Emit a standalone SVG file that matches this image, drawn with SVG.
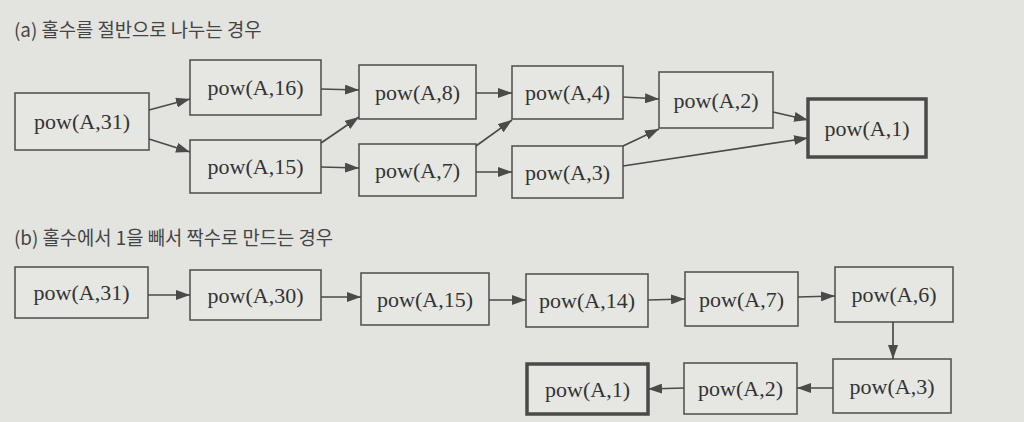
<svg xmlns="http://www.w3.org/2000/svg" width="1024" height="422" viewBox="0 0 1024 422">
<defs>
<marker id="ah" viewBox="0 0 14 10" refX="14" refY="5" markerWidth="14" markerHeight="10" markerUnits="userSpaceOnUse" orient="auto">
<path d="M0,0 L14,5 L0,10 Z" fill="#4a4a4a"/>
</marker>
<style>
.bg{fill:#e3e3e0}
.n rect{fill:#e6e6e3;stroke:#555;stroke-width:1.6}
.n.bold rect{stroke:#4a4a4a;stroke-width:3.5}
.n text{font-family:"Liberation Serif","Times New Roman",serif;font-size:22px;fill:#333;text-anchor:middle;dominant-baseline:central}
.t{font-family:"Noto Sans CJK KR","Noto Sans",sans-serif;font-size:18.8px;fill:#444}
#edges line{stroke:#4a4a4a;stroke-width:1.7;marker-end:url(#ah)}
</style>
</defs>
<rect class="bg" x="0" y="0" width="1024" height="422"/>
<text class="t" x="14" y="37">(a) 홀수를 절반으로 나누는 경우</text>
<text class="t" x="14" y="245">(b) 홀수에서 1을 빼서 짝수로 만드는 경우</text>

<g id="a31" class="n"><rect x="15" y="93" width="134" height="57"/><text x="82" y="121.5">pow(A,31)</text></g>
<g id="a16" class="n"><rect x="190" y="60" width="131" height="55"/><text x="255.5" y="87.5">pow(A,16)</text></g>
<g id="a15" class="n"><rect x="190" y="140" width="131" height="53"/><text x="255.5" y="166.5">pow(A,15)</text></g>
<g id="a8" class="n"><rect x="359" y="65" width="117" height="54"/><text x="417.5" y="92">pow(A,8)</text></g>
<g id="a7" class="n"><rect x="359" y="144" width="117" height="52"/><text x="417.5" y="170">pow(A,7)</text></g>
<g id="a4" class="n"><rect x="512" y="66" width="111" height="53"/><text x="567.5" y="92.5">pow(A,4)</text></g>
<g id="a3" class="n"><rect x="512" y="146" width="111" height="52"/><text x="567.5" y="172">pow(A,3)</text></g>
<g id="a2" class="n"><rect x="659" y="72" width="114" height="56"/><text x="716" y="100">pow(A,2)</text></g>
<g id="a1" class="n bold"><rect x="808" y="99" width="118" height="58"/><text x="867" y="128">pow(A,1)</text></g>

<g id="b31" class="n"><rect x="15" y="267" width="133" height="51"/><text x="81.5" y="292.5">pow(A,31)</text></g>
<g id="b30" class="n"><rect x="190" y="270" width="131" height="50"/><text x="255.5" y="295">pow(A,30)</text></g>
<g id="b15" class="n"><rect x="361" y="273" width="128" height="52"/><text x="425" y="299">pow(A,15)</text></g>
<g id="b14" class="n"><rect x="526" y="274" width="122" height="53"/><text x="587" y="300.5">pow(A,14)</text></g>
<g id="b7" class="n"><rect x="685" y="272" width="113" height="54"/><text x="741.5" y="299">pow(A,7)</text></g>
<g id="b6" class="n"><rect x="835" y="267" width="118" height="55"/><text x="894" y="294.5">pow(A,6)</text></g>
<g id="b3" class="n"><rect x="833" y="359" width="118" height="54"/><text x="892" y="386">pow(A,3)</text></g>
<g id="b2" class="n"><rect x="684" y="363" width="113" height="51"/><text x="740.5" y="388.5">pow(A,2)</text></g>
<g id="b1" class="n bold"><rect x="527" y="364" width="121" height="50"/><text x="587.5" y="389">pow(A,1)</text></g>

<g id="edges">
<line x1="149" y1="110" x2="190" y2="99"/>
<line x1="149" y1="139" x2="190" y2="152"/>
<line x1="321" y1="89" x2="359" y2="90"/>
<line x1="321" y1="143" x2="359" y2="117"/>
<line x1="321" y1="167" x2="359" y2="168"/>
<line x1="476" y1="93" x2="512" y2="93"/>
<line x1="476" y1="146" x2="512" y2="120"/>
<line x1="476" y1="172" x2="512" y2="172"/>
<line x1="623" y1="97" x2="659" y2="99"/>
<line x1="623" y1="146" x2="659" y2="129"/>
<line x1="773" y1="112" x2="808" y2="120"/>
<line x1="623" y1="166" x2="808" y2="138"/>
<line x1="148" y1="295" x2="190" y2="295"/>
<line x1="321" y1="297" x2="361" y2="297"/>
<line x1="489" y1="300" x2="526" y2="300"/>
<line x1="648" y1="300" x2="685" y2="299"/>
<line x1="798" y1="297" x2="835" y2="296"/>
<line x1="893" y1="322" x2="893" y2="359"/>
<line x1="833" y1="388" x2="797" y2="388"/>
<line x1="684" y1="388" x2="648" y2="389"/>
</g>
</svg>
